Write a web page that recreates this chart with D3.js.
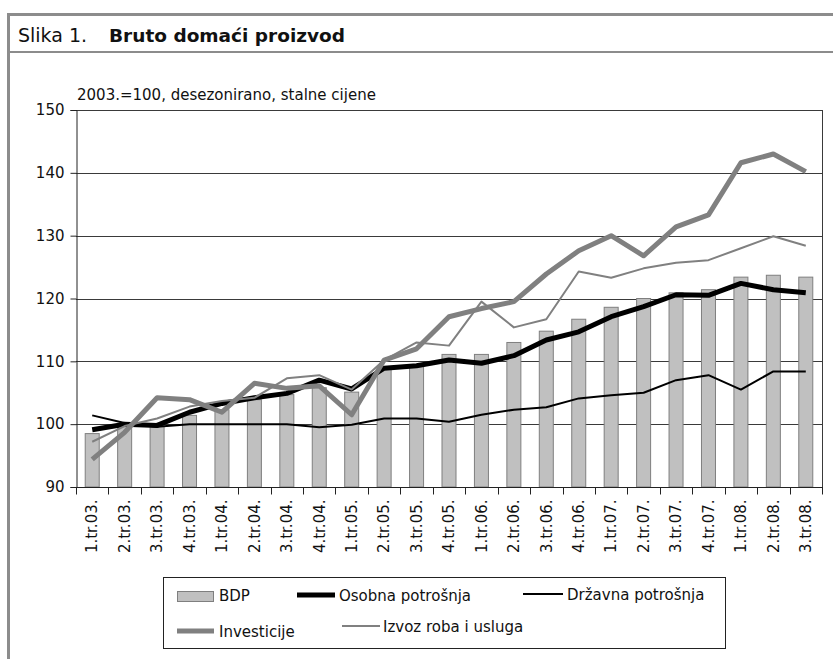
<!DOCTYPE html>
<html>
<head>
<meta charset="utf-8">
<script type="text/javascript" src="https://cdn.jsdelivr.net/npm/d3@7/dist/d3.min.js"></script>
<style type="text/css">
  body { margin: 0; background: #fff; }
  text { font-family: "DejaVu Sans", sans-serif; fill: #111; }
</style>
</head>
<body>
<div id="viz"></div>
<script type="text/javascript">
var quarters = ["1.tr.03.","2.tr.03.","3.tr.03.","4.tr.03.","1.tr.04.","2.tr.04.","3.tr.04.","4.tr.04.",
                "1.tr.05.","2.tr.05.","3.tr.05.","4.tr.05.","1.tr.06.","2.tr.06.","3.tr.06.","4.tr.06.",
                "1.tr.07.","2.tr.07.","3.tr.07.","4.tr.07.","1.tr.08.","2.tr.08.","3.tr.08."];
var bdp      = [98.5, 99.6, 99.7, 101.4, 102.3, 103.9, 104.7, 105.8, 105.1, 108.7, 109.2, 111.1,
                111.1, 113.0, 114.8, 116.7, 118.6, 120.0, 120.9, 121.4, 123.4, 123.7, 123.4];
var osobna   = [99.1, 100.0, 99.8, 101.9, 103.3, 104.2, 104.9, 107.0, 105.6, 108.9, 109.3, 110.2,
                109.7, 110.9, 113.4, 114.7, 117.1, 118.7, 120.6, 120.5, 122.4, 121.4, 120.9];
var drzavna  = [101.4, 100.2, 99.6, 100.0, 100.0, 100.0, 100.0, 99.5, 99.9, 100.9, 100.9, 100.4,
                101.5, 102.3, 102.7, 104.1, 104.6, 105.0, 107.0, 107.8, 105.5, 108.4, 108.4];
var investicije = [94.4, 98.7, 104.2, 103.9, 101.9, 106.5, 105.7, 106.1, 101.5, 110.2, 112.0, 117.1,
                   118.4, 119.5, 123.9, 127.6, 130.0, 126.8, 131.4, 133.3, 141.6, 143.0, 140.2];
var izvoz    = [97.2, 99.7, 100.9, 102.8, 103.7, 104.2, 107.3, 107.8, 105.5, 110.2, 113.0, 112.5,
                119.5, 115.4, 116.7, 124.3, 123.3, 124.8, 125.7, 126.1, 128.0, 129.9, 128.4];
var yTicks = [90, 100, 110, 120, 130, 140, 150];

var W = 833, H = 659;
var plotL = 76, plotR = 822, plotT = 110, plotB = 487;

var svg = d3.select("#viz").append("svg")
  .attr("width", W).attr("height", H);

// frame round the figure
svg.append("line").attr("x1", 7).attr("y1", 14.5).attr("x2", W).attr("y2", 14.5)
  .attr("stroke", "#8c8c8c").attr("stroke-width", 3);
svg.append("line").attr("x1", 8.5).attr("y1", 13).attr("x2", 8.5).attr("y2", H)
  .attr("stroke", "#8c8c8c").attr("stroke-width", 3);
svg.append("line").attr("x1", 8).attr("y1", 52).attr("x2", W).attr("y2", 52)
  .attr("stroke", "#8c8c8c").attr("stroke-width", 2);

svg.append("text").attr("x", 18).attr("y", 42).style("font-size", "19px").text("Slika 1.");
svg.append("text").attr("x", 109).attr("y", 42).style("font-size", "18.5px")
  .style("font-weight", "bold").text("Bruto domaći proizvod");

svg.append("text").attr("x", 77).attr("y", 100).style("font-size", "15px")
  .text("2003.=100, desezonirano, stalne cijene");

var x = d3.scaleBand().domain(quarters).range([plotL, plotR]);
var y = d3.scaleLinear().domain([90, 150]).range([plotB, plotT]);

// gridlines
svg.selectAll(".grid").data(yTicks.slice(1)).enter().append("line")
  .attr("x1", plotL).attr("x2", plotR)
  .attr("y1", function(d) { return Math.round(y(d)) + 0.5; })
  .attr("y2", function(d) { return Math.round(y(d)) + 0.5; })
  .attr("stroke", "#3a3a3a").attr("stroke-width", 1);
svg.append("line").attr("x1", plotR + 0.5).attr("x2", plotR + 0.5)
  .attr("y1", plotT).attr("y2", plotB).attr("stroke", "#3a3a3a");

// BDP bars
var bw = 14;
svg.selectAll(".bar").data(bdp).enter().append("rect")
  .attr("x", function(d, i) { return x(quarters[i]) + x.bandwidth() / 2 - bw / 2; })
  .attr("y", function(d) { return y(d); })
  .attr("width", bw)
  .attr("height", function(d) { return y(90) - y(d); })
  .attr("fill", "#c0c0c0").attr("stroke", "#7f7f7f").attr("stroke-width", 1);

var line = d3.line()
  .x(function(d, i) { return x(quarters[i]) + x.bandwidth() / 2; })
  .y(function(d) { return y(d); });

var series = [
  {name: "Osobna potrošnja", values: osobna, color: "#000", width: 5},
  {name: "Državna potrošnja", values: drzavna, color: "#000", width: 2},
  {name: "Investicije", values: investicije, color: "#808080", width: 5},
  {name: "Izvoz roba i usluga", values: izvoz, color: "#808080", width: 2}
];
series.forEach(function(s) {
  svg.append("path").datum(s.values).attr("d", line)
    .attr("fill", "none").attr("stroke", s.color).attr("stroke-width", s.width)
    .attr("stroke-linejoin", "round");
});

// axes
var yAxis = svg.append("g").attr("transform", "translate(" + (plotL + 0.5) + ",0)")
  .call(d3.axisLeft(y).tickValues(yTicks).tickSize(6).tickPadding(6));
yAxis.select(".domain").attr("stroke", "#222");
yAxis.selectAll(".tick line").attr("stroke", "#222");
yAxis.selectAll("text").style("font-size", "15px").style("font-family", "DejaVu Sans").attr("fill", "#111");

var xAxis = svg.append("g").attr("transform", "translate(0," + (plotB + 0.5) + ")");
xAxis.append("line").attr("x1", plotL).attr("x2", plotR + 1).attr("stroke", "#222");
xAxis.selectAll(".xt").data(quarters.concat(["end"])).enter().append("line")
  .attr("x1", function(d, i) { return Math.round(plotL + i * x.step()) + 0.5; })
  .attr("x2", function(d, i) { return Math.round(plotL + i * x.step()) + 0.5; })
  .attr("y1", 0).attr("y2", 7).attr("stroke", "#222");
xAxis.selectAll(".xl").data(quarters).enter().append("text")
  .attr("transform", function(d) {
    return "translate(" + (x(d) + x.bandwidth() / 2) + ",12) rotate(-90)";
  })
  .attr("text-anchor", "end").attr("dy", "0.35em")
  .style("font-size", "15px")
  .text(function(d) { return d; });

// legend
var lg = svg.append("g");
lg.append("rect").attr("x", 163.5).attr("y", 577.5).attr("width", 562).attr("height", 71)
  .attr("fill", "#fff").attr("stroke", "#222");
lg.append("rect").attr("x", 177.5).attr("y", 591.5).attr("width", 36).attr("height", 10)
  .attr("fill", "#c0c0c0").attr("stroke", "#7f7f7f");
lg.append("text").attr("x", 219).attr("y", 601).style("font-size", "15px").text("BDP");

var legendLines = [
  {s: series[0], x1: 297, x2: 335, y: 595, tx: 339, ty: 601},
  {s: series[1], x1: 523, x2: 563, y: 594, tx: 567, ty: 600},
  {s: series[2], x1: 177, x2: 214, y: 631, tx: 219, ty: 637},
  {s: series[3], x1: 342, x2: 380, y: 626, tx: 383, ty: 632}
];
legendLines.forEach(function(l) {
  lg.append("line").attr("x1", l.x1).attr("x2", l.x2).attr("y1", l.y).attr("y2", l.y)
    .attr("stroke", l.s.color).attr("stroke-width", l.s.width);
  lg.append("text").attr("x", l.tx).attr("y", l.ty).style("font-size", "15px").text(l.s.name);
});
</script>
</body>
</html>
